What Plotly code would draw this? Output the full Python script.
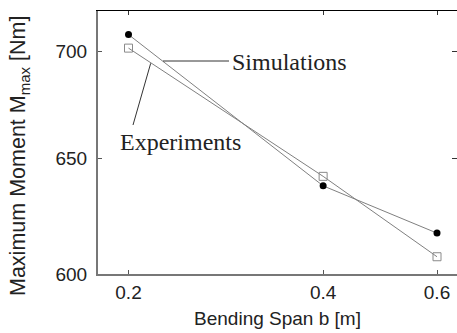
import plotly.graph_objects as go
import math

span = [0.2, 0.4, 0.6]
simulations = [708, 637.7, 617.2]
experiments = [701.4, 641.9, 607.2]
x_ticks = [0.2, 0.4, 0.6]
x_ticktext = ["0.2", "0.4", "0.6"]
y_ticks = [600, 650, 700]
y_ticktext = ["600", "650", "700"]

xr = [-0.74614, -0.19092]
yr = [math.log10(600), 2.85711]

L, T, B = 98, 11, 59
W, H = 457, 333
PW, PH = W - L, H - T - B

def px(x):
    return (x - L) / PW

def py(y):
    return (H - B - y) / PH

fig = go.Figure()
fig.add_trace(go.Scatter(x=span, y=simulations, mode="lines+markers",
                         line=dict(color="#808080", width=1),
                         marker=dict(symbol="circle", size=7, color="black"),
                         showlegend=False))
fig.add_trace(go.Scatter(x=span, y=experiments, mode="lines+markers",
                         line=dict(color="#808080", width=1),
                         marker=dict(symbol="square-open", size=8, color="#8a8a8a",
                                     line=dict(width=1)),
                         showlegend=False))
fig.add_trace(go.Scatter(x=span, y=experiments, mode="markers", xaxis="x", yaxis="y2",
                         marker=dict(opacity=0), showlegend=False, hoverinfo="skip"))
fig.add_trace(go.Scatter(x=span, y=experiments, mode="markers", xaxis="x2", yaxis="y",
                         marker=dict(opacity=0), showlegend=False, hoverinfo="skip"))

tickfont = dict(family="Liberation Sans, Arial, sans-serif", size=19, color="#222")
fig.update_layout(
    width=W, height=H,
    margin=dict(l=L, r=0, t=T, b=B),
    plot_bgcolor="white", paper_bgcolor="white",
    xaxis=dict(type="log", range=xr, tickvals=x_ticks, ticktext=x_ticktext,
               ticks="inside", ticklen=4, tickcolor="#555", tickwidth=1,
               showline=True, linecolor="#777", linewidth=2, showgrid=False,
               zeroline=False, tickfont=tickfont,
               title=dict(text="Bending Span b [m]", font=tickfont, standoff=10)),
    yaxis=dict(type="log", range=yr, tickvals=y_ticks, ticktext=y_ticktext,
               ticks="inside", ticklen=4, tickcolor="#555", tickwidth=1,
               showline=True, linecolor="#777", linewidth=2, showgrid=False,
               zeroline=False, tickfont=tickfont, ticklabelstandoff=5),
    xaxis2=dict(type="log", range=xr, tickvals=x_ticks, overlaying="x", side="top",
                anchor="y", ticks="inside", ticklen=4, tickcolor="#333", showticklabels=False,
                showline=True, linecolor="black", linewidth=1.3, showgrid=False, zeroline=False),
    yaxis2=dict(type="log", range=yr, tickvals=y_ticks, overlaying="y", side="right",
                anchor="x", ticks="inside", ticklen=5, tickcolor="#333", tickwidth=1.2,
                showticklabels=False, showline=False, showgrid=False, zeroline=False),
)

fig.add_annotation(x=px(20), y=py(156), xref="paper", yref="paper",
                   text="Maximum Moment M<sub>max</sub> [Nm]", textangle=-90,
                   showarrow=False, xanchor="center", yanchor="middle",
                   font=dict(family="Liberation Sans, Arial, sans-serif", size=21.5, color="#222"))

serif = dict(family="Liberation Serif, Times New Roman, serif", size=24, color="#222")
fig.add_annotation(x=px(289), y=py(62), xref="paper", yref="paper", text="Simulations",
                   showarrow=False, font=serif, xanchor="center", yanchor="middle")
fig.add_annotation(x=px(180), y=py(142), xref="paper", yref="paper", text="Experiments",
                   showarrow=False, font=serif, xanchor="center", yanchor="middle")
fig.add_shape(type="line", xref="paper", yref="paper", x0=px(163), y0=py(61), x1=px(229), y1=py(61),
              line=dict(color="#333", width=1))
fig.add_shape(type="line", xref="paper", yref="paper", x0=px(133), y0=py(125), x1=px(150.7), y1=py(63.3),
              line=dict(color="#333", width=1))

fig.write_html("out.html")
